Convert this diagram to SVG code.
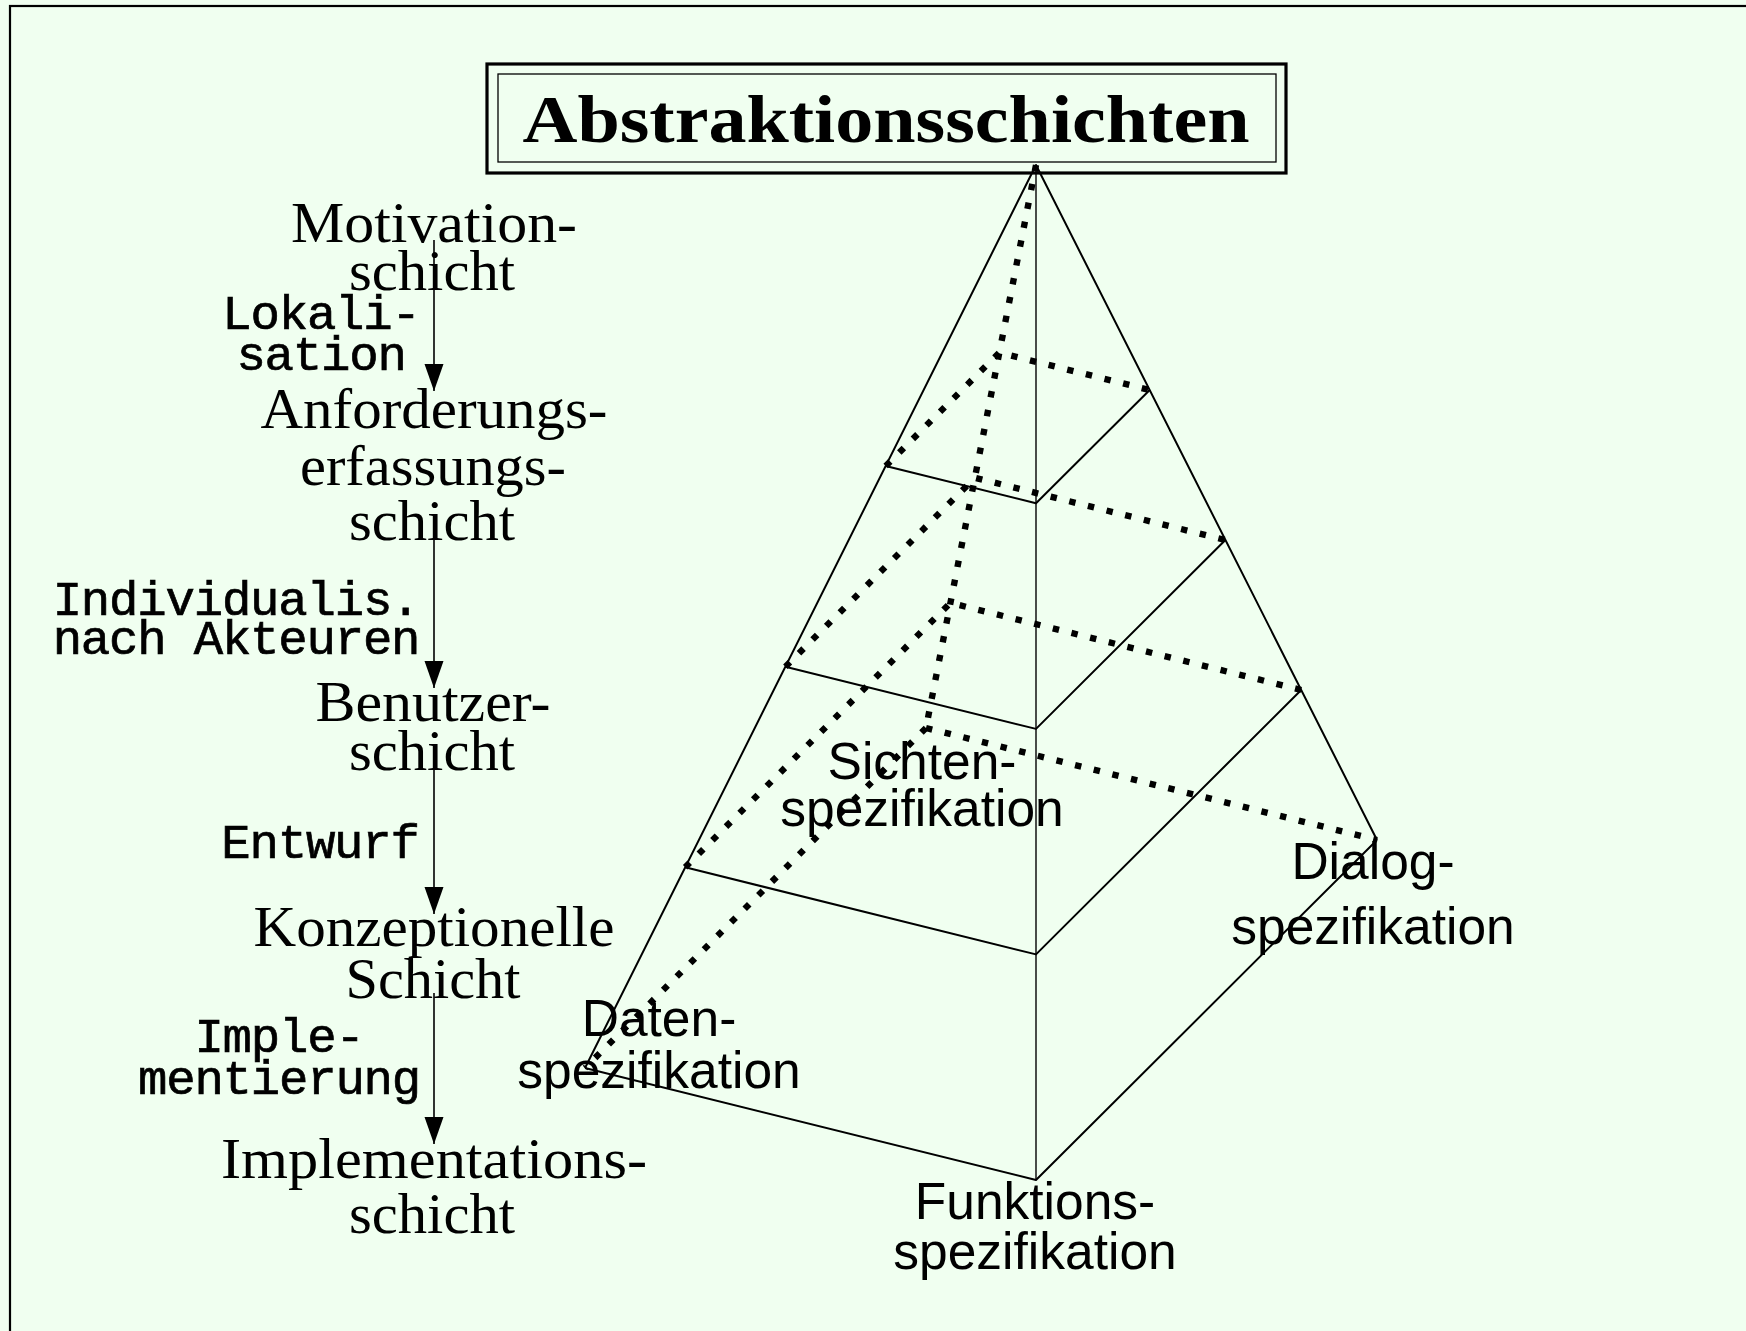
<svg xmlns="http://www.w3.org/2000/svg" width="1746" height="1331" viewBox="0 0 1746 1331">
<defs>
<style>
.bg{fill:#F0FFF0}
.frame{fill:none;stroke:#000;stroke-width:2.2}
.rm{font-family:"Liberation Serif","Times New Roman",serif;font-size:56px;fill:#000;text-anchor:middle}
.tt{font-family:"Liberation Mono","Courier New",monospace;font-size:49px;letter-spacing:-1.2px;fill:#000;stroke:#000;stroke-width:0.7;text-anchor:middle}
.sf{font-family:"Liberation Sans",Arial,sans-serif;font-size:51.5px;fill:#000;text-anchor:middle}
.title{font-family:"Liberation Serif","Times New Roman",serif;font-size:67px;font-weight:bold;fill:#000;text-anchor:middle}
.edge{fill:none;stroke:#000;stroke-width:2;stroke-linejoin:round}
.thin{fill:none;stroke:#000;stroke-width:1.4}
.dot{fill:none;stroke:#000;stroke-width:6.4;stroke-dasharray:6.4 12.8}
.arr{fill:none;stroke:#000;stroke-width:1.6}
</style>
<marker id="ah" markerUnits="userSpaceOnUse" markerWidth="30" markerHeight="22" refX="27" refY="9.5" orient="auto">
<path d="M0,0 L27,9.5 L0,19 Z" fill="#000"/>
</marker>
</defs>
<rect class="bg" x="0" y="0" width="1746" height="1331"/>
<rect class="frame" x="10" y="6" width="1800" height="1400"/>

<g id="title">
<rect x="487" y="64" width="799" height="109" fill="none" stroke="#000" stroke-width="3.2"/>
<rect x="498" y="74" width="778" height="88" fill="none" stroke="#000" stroke-width="1.3"/>
<text class="title" x="886" y="142" textLength="727" lengthAdjust="spacingAndGlyphs">Abstraktionsschichten</text>
</g>

<g id="connectors">
<line class="arr" x1="434" y1="240" x2="434" y2="391" marker-end="url(#ah)"/>
<line class="arr" x1="434" y1="533" x2="434" y2="688" marker-end="url(#ah)"/>
<line class="arr" x1="434" y1="770" x2="434" y2="914" marker-end="url(#ah)"/>
<line class="arr" x1="434" y1="993" x2="434" y2="1144" marker-end="url(#ah)"/>
</g>

<g id="layer-labels">
<g id="motivation"><text class="rm" x="434" y="242" textLength="286" lengthAdjust="spacingAndGlyphs">Motivation-</text><text class="rm" x="432" y="290" textLength="166" lengthAdjust="spacingAndGlyphs">schicht</text></g>
<g id="anforderung"><text class="rm" x="434" y="428" textLength="347" lengthAdjust="spacingAndGlyphs">Anforderungs-</text><text class="rm" x="433" y="485" textLength="266" lengthAdjust="spacingAndGlyphs">erfassungs-</text><text class="rm" x="432" y="540" textLength="166" lengthAdjust="spacingAndGlyphs">schicht</text></g>
<g id="benutzer"><text class="rm" x="433" y="721" textLength="235" lengthAdjust="spacingAndGlyphs">Benutzer-</text><text class="rm" x="432" y="770" textLength="166" lengthAdjust="spacingAndGlyphs">schicht</text></g>
<g id="konzeptionell"><text class="rm" x="434" y="946" textLength="361" lengthAdjust="spacingAndGlyphs">Konzeptionelle</text><text class="rm" x="433" y="998" textLength="175" lengthAdjust="spacingAndGlyphs">Schicht</text></g>
<g id="implementation"><text class="rm" x="434" y="1178" textLength="426" lengthAdjust="spacingAndGlyphs">Implementations-</text><text class="rm" x="432" y="1233" textLength="166" lengthAdjust="spacingAndGlyphs">schicht</text></g>
</g>

<g id="transition-labels">
<g id="lokalisation"><text class="tt" x="321" y="329">Lokali-</text><text class="tt" x="321" y="370">sation</text></g>
<g id="individualisierung"><text class="tt" x="236" y="615">Individualis.</text><text class="tt" x="236" y="654">nach Akteuren</text></g>
<g id="entwurf"><text class="tt" x="320" y="858">Entwurf</text></g>
<g id="implementierung"><text class="tt" x="279" y="1052">Imple-</text><text class="tt" x="279" y="1094">mentierung</text></g>
</g>

<g id="pyramid">
<polyline class="edge" points="585,1068 1036,165 1377,840"/>
<line class="thin" x1="1036" y1="165" x2="1036" y2="1180"/>
<polyline class="edge" points="585,1068 1036,1180 1377,840"/>
<polyline class="edge" points="885.7,466 1036,503.3 1149.7,390"/>
<polyline class="edge" points="785.4,666.7 1036,728.9 1225.4,540"/>
<polyline class="edge" points="685.2,867.3 1036,954.4 1301.2,690"/>
<g id="hidden-edges">
<line class="dot" x1="1036" y1="165" x2="926" y2="728"/>
<line class="dot" x1="926" y1="728" x2="585" y2="1068"/>
<line class="dot" x1="926" y1="728" x2="1377" y2="840"/>
<polyline class="dot" points="885.7,466 999.3,352.7 1149.7,390"/>
<polyline class="dot" points="785.4,666.7 974.9,477.8 1225.4,540"/>
<polyline class="dot" points="685.2,867.3 950.4,602.9 1301.2,690"/>
</g>
</g>

<g id="spec-labels">
<g id="sichten"><text class="sf" x="922" y="779">Sichten-</text><text class="sf" x="922" y="826">spezifikation</text></g>
<g id="daten"><text class="sf" x="659" y="1036">Daten-</text><text class="sf" x="659" y="1088">spezifikation</text></g>
<g id="dialog"><text class="sf" x="1373" y="879">Dialog-</text><text class="sf" x="1373" y="944">spezifikation</text></g>
<g id="funktion"><text class="sf" x="1035" y="1219">Funktions-</text><text class="sf" x="1035" y="1269">spezifikation</text></g>
</g>
</svg>
